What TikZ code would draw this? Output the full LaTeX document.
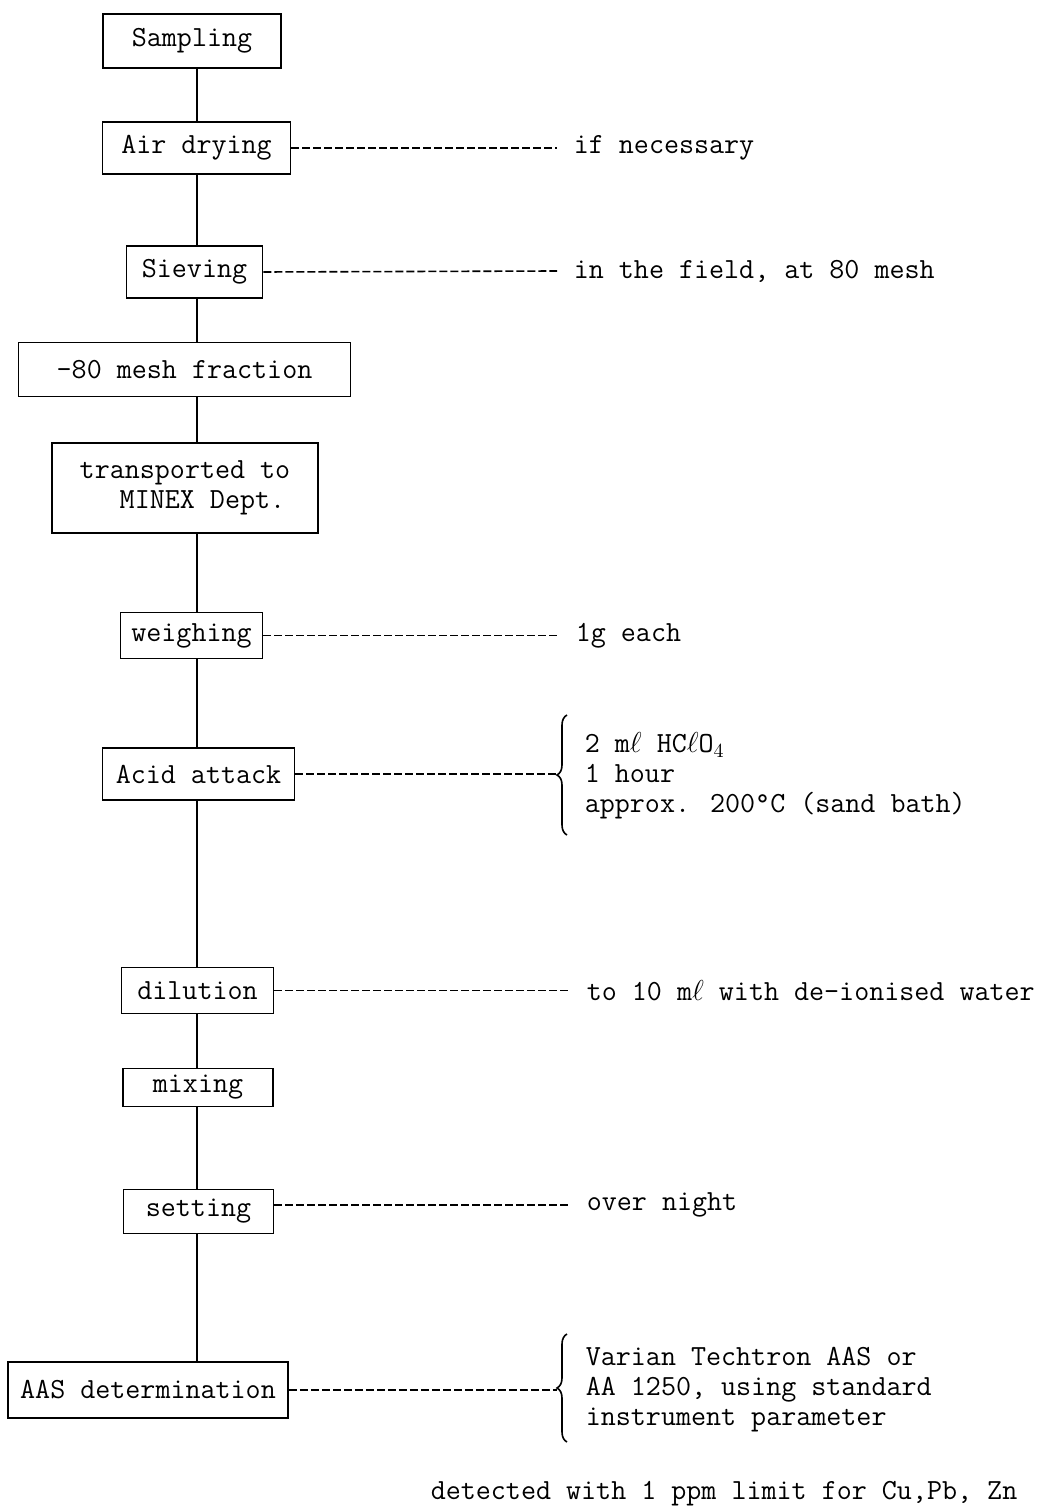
\documentclass[tikz,border=0pt]{standalone}
\usetikzlibrary{decorations.pathreplacing}
\begin{document}
\begin{tikzpicture}[x=0.5pt,y=-0.5pt,line width=0.8pt,
  font=\fontsize{14.6}{15}\selectfont\ttfamily,
  stage/.style={draw,inner sep=0pt},
  note/.style={anchor=west,inner xsep=8pt,inner ysep=0pt,align=left},
  tie/.style={dash pattern=on 4pt off 1.5pt,line width=0.8pt},
  curly/.style={decorate,decoration={brace,amplitude=5pt},line width=0.8pt}]
  \useasboundingbox (0,0) rectangle (1043,1507);
  \coordinate (spine) at (197,0);
  \node[stage,minimum width=89pt,minimum height=27pt] (sampling) at (192,41) {Sampling};
  \node[stage,minimum width=94pt,minimum height=26pt] (airdry) at (196.5,148) {Air drying};
  \node[stage,minimum width=68pt,minimum height=26pt] (sieving) at (194.5,272) {Sieving};
  \node[stage,minimum width=166pt,minimum height=27pt] (fraction) at (184.5,369.5) {-80 mesh fraction};
  \node[stage,minimum width=133pt,minimum height=45pt,align=left] (transport) at (185,488)
    {transported to\\\hspace*{20pt}MINEX Dept.};
  \node[stage,minimum width=71pt,minimum height=23pt] (weighing) at (191.5,635.5) {weighing};
  \node[stage,minimum width=96pt,minimum height=26pt] (acid) at (198.5,774) {Acid attack};
  \node[stage,minimum width=76pt,minimum height=23pt] (dilution) at (197.5,990.5) {dilution};
  \node[stage,minimum width=75pt,minimum height=19pt] (mixing) at (198,1087.5) {mixing};
  \node[stage,minimum width=75pt,minimum height=22pt] (setting) at (198.5,1211.5) {setting};
  \node[stage,minimum width=140pt,minimum height=28pt] (aas) at (148,1390) {AAS determination};
  \foreach \a/\b in {sampling/airdry,airdry/sieving,sieving/fraction,fraction/transport,
    transport/weighing,weighing/acid,acid/dilution,dilution/mixing,mixing/setting,setting/aas}
    \draw (\a.south -| spine) -- (\b.north -| spine);
  \node[note] (ifnec) at (557,148) {if necessary};
  \node[note] (field) at (557,271) {in the field, at 80 mesh};
  \node[note] (each) at (559,635.5) {1g each};
  \node[note] (water) at (570,990.5) {to 10 m$\ell$ with de-ionised water};
  \node[note] (night) at (570,1205) {over night};
  \draw[tie] (airdry.east) -- (ifnec.west);
  \draw[tie] (sieving.east) -- (field.west);
  \draw[tie] (weighing.east) -- (each.west);
  \draw[tie] (dilution.east) -- (water.west);
  \draw[tie] (setting.east |- night) -- (night.west);
  \node[note,inner xsep=0pt,align=left] (acidnote) at (584,776)
    {2 m$\ell$ HC$\ell$O$_4$\\1 hour\\approx. 200\textdegree C (sand bath)};
  \draw[curly] (567,835) -- (567,715);
  \coordinate (acidtip) at (557,774);
  \draw[tie] (acid.east) -- (acidtip);
  \node[note,inner xsep=0pt,align=left] (aasnote) at (585,1390)
    {Varian Techtron AAS or\\AA 1250, using standard\\instrument parameter};
  \draw[curly] (567,1442) -- (567,1334);
  \coordinate (aastip) at (557,1390);
  \draw[tie] (aas.east) -- (aastip);
  \node[anchor=west,inner sep=0pt] (limit) at (430,1494) {detected with 1 ppm limit for Cu,Pb, Zn};
\end{tikzpicture}
\end{document}
